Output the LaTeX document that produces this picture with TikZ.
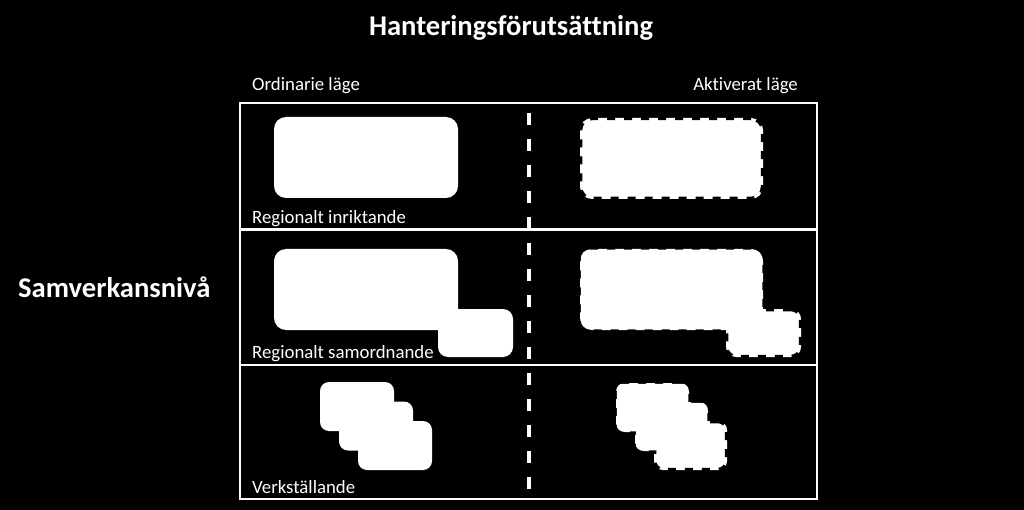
\documentclass[tikz,border=0pt]{standalone}
\usepackage{fontspec}
\setmainfont{Carlito}[Ligatures=NoCommon]
\begin{document}
\begin{tikzpicture}[x=1pt,y=-1pt,
   plainbox/.style={fill=white,rounded corners=#1,inner sep=0pt},
   plainbox/.default=12pt,
   raggedbox/.style={fill=white,draw=black,line width=4.5pt,
     dash pattern=on 8pt off 9pt,rounded corners=#1,inner sep=0pt},
   raggedbox/.default=12pt,
   headtext/.style={text=white,font=\bfseries\fontsize{28.6}{33}\selectfont,
     inner sep=0pt,anchor=base},
   rowtext/.style={text=white,font=\fontsize{18.8}{22}\selectfont,
     inner sep=0pt,anchor=base west}]
   \fill[black] (0,0) rectangle (1024,510);
   % rubriker
   \node[headtext] (titel) at (511,36) {Hanteringsförutsättning};
   \node[headtext,anchor=base west] (niva) at (18,298) {Samverkansnivå};
   \node[rowtext] (ordinarie) at (252,91) {Ordinarie läge};
   \node[rowtext,anchor=base east] (aktiverat) at (798,91) {Aktiverat läge};
   % ram
   \draw[white,line width=2.5pt] (240,103) rectangle (817,499);
   \draw[white,line width=2.5pt] (240,229.5) -- (817,229.5)
     (240,365) -- (817,365);
   \draw[white,line width=4pt,dash pattern=on 12pt off 14pt]
     (529,113) -- (529,499);
   \node[rowtext] (inriktande) at (252,224) {Regionalt inriktande};
   \node[rowtext] (samordnande) at (252,358) {Regionalt samordnande};
   \node[rowtext] (verkstallande) at (252,493) {Verkställande};
   % ordinarie läge
   \node[plainbox,minimum width=184pt,minimum height=81pt]
     (ordTop) at (366,157.5) {};
   \node[plainbox,minimum width=184pt,minimum height=81pt]
     (ordMid) at (366,289.5) {};
   \node[plainbox=10pt,minimum width=75pt,minimum height=48pt]
     (ordMidSmall) at (475.5,333) {};
   \foreach \i in {0,1,2}
     \node[plainbox=9pt,minimum width=74pt,minimum height=49pt]
       (ordLow\i) at (357+19*\i,406.5+19.5*\i) {};
   % aktiverat läge
   \node[raggedbox,minimum width=183pt,minimum height=81pt]
     (actTop) at (671.5,158.5) {};
   \node[raggedbox,minimum width=183pt,minimum height=81pt]
     (actMid) at (671.5,289.5) {};
   \node[raggedbox=10pt,minimum width=75pt,minimum height=48pt]
     (actMidSmall) at (763.5,333) {};
   \fill[white,rounded corners=9pt] ([shift={(3,3)}]actMid.north west)
     rectangle ([shift={(-3,-3)}]actMid.south east);
   \foreach \i in {0,1,2}
     \node[raggedbox=9pt,minimum width=73pt,minimum height=49pt]
       (actLow\i) at (652.5+19*\i,407.5+19*\i) {};
   \foreach \i in {0,1}
     \fill[white,rounded corners=6pt] ([shift={(3,3)}]actLow\i.north west)
       rectangle ([shift={(-3,-3)}]actLow\i.south east);
\end{tikzpicture}
\end{document}
